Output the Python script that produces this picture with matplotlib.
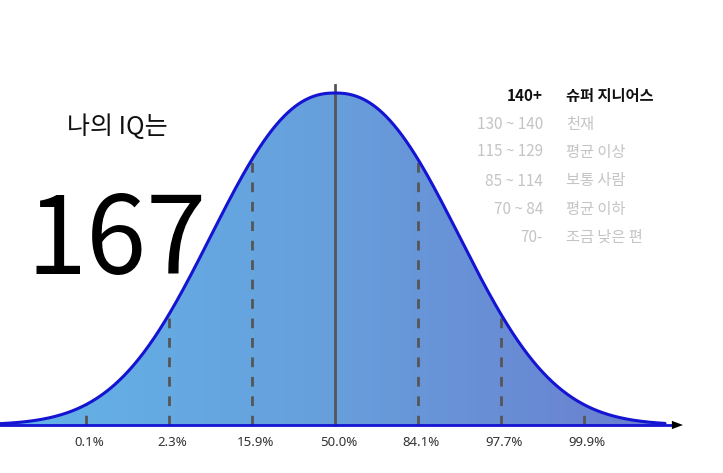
import numpy as np
import matplotlib
matplotlib.use("Agg")
import matplotlib.pyplot as plt
from matplotlib.colors import LinearSegmentedColormap
from matplotlib.patches import PathPatch

plt.rcParams['font.family'] = ['Noto Sans CJK KR', 'DejaVu Sans']

# --- data ---
sigma_pos = [-3, -2, -1, 0, 1, 2, 3]
pct_labels = ["0.1%", "2.3%", "15.9%", "50.0%", "84.1%", "97.7%", "99.9%"]
iq_ranges = ["140+", "130 ~ 140", "115 ~ 129", "85 ~ 114", "70 ~ 84", "70-"]
iq_names = ["슈퍼 지니어스", "천재", "평균 이상", "보통 사람", "평균 이하", "조금 낮은 편"]
my_iq = "167"
title_txt = "나의 IQ는"
curve_width = 1.92   # bell width relative to sigma markers
curve_power = 2.3    # bell shape exponent

W, H = 723, 473
fig = plt.figure(figsize=(W / 100, H / 100), dpi=100)
ax = fig.add_axes([0, 0, 1, 1])
px_per_sigma = 83.0
cx, base_y, peak_y = 335.0, 425.0, 93.0
hpx = base_y - peak_y
ax.set_xlim(-cx / px_per_sigma, (W - cx) / px_per_sigma)
ax.set_ylim((base_y - H) / hpx, base_y / hpx)
ax.axis('off')

def bell(x):
    return np.exp(-(np.abs(x) / curve_width) ** curve_power)

x0 = -cx / px_per_sigma
x1 = (665 - cx) / px_per_sigma
xs = np.linspace(x0, x1, 800)
ys = bell(xs)

# gradient fill
cmap = LinearSegmentedColormap.from_list("g", ["#63b4e8", "#679fdc", "#6a7dcf"])
grad = np.linspace(0, 1, 256).reshape(1, -1)
im = ax.imshow(grad, cmap=cmap, aspect='auto', extent=[x0, x1, 0, 1.0], zorder=1)
poly = ax.fill_between(xs, 0, ys, color='none', zorder=0)
patch = PathPatch(poly.get_paths()[0], transform=ax.transData, facecolor='none', edgecolor='none')
ax.add_patch(patch)
im.set_clip_path(patch)

# sigma lines
for s in sigma_pos:
    if s == 0:
        ax.plot([0, 0], [0, (base_y - 85) / hpx], color='#555555', lw=2, zorder=3)
    else:
        ax.plot([s, s], [0, bell(s)], color='#555555', lw=2, ls=(0, (3.5, 3.5)), zorder=3)

# curve outline
ax.plot(xs, ys, color='#1414d2', lw=2.2, zorder=4, solid_capstyle='round')

# baseline
ax.plot([x0, (672 - cx) / px_per_sigma], [0, 0], color='#1414d2', lw=2, zorder=5)
ax.annotate("", xy=((683 - cx) / px_per_sigma, 0), xytext=((671 - cx) / px_per_sigma, 0),
            arrowprops=dict(arrowstyle='-|>,head_length=0.8,head_width=0.3', color='black',
                            lw=0, shrinkA=0, shrinkB=0), zorder=6)

# percent labels
for s, lab in zip(sigma_pos, pct_labels):
    ax.text(s + 0.04, (base_y - 442) / hpx, lab, ha='center', va='center',
            fontsize=9.5, color='#333333', family=['Noto Sans', 'DejaVu Sans'])

def ftxt(x, y, s, **kw):
    fig.text(x / W, 1 - y / H, s, **kw)

ftxt(117, 127, title_txt, ha='center', va='center', fontsize=18, color='#111111')
ftxt(117, 243, my_iq, ha='center', va='center', fontsize=78, color='#000000')

row_y = [96, 124, 152, 181, 209, 237]
for i, (r, n) in enumerate(zip(iq_ranges, iq_names)):
    col = '#111111' if i == 0 else '#c4c4c4'
    fw = 'bold' if i == 0 else 'normal'
    ftxt(543, row_y[i], r, ha='right', va='center', fontsize=11, color=col, fontweight=fw)
    ftxt(566, row_y[i], n, ha='left', va='center', fontsize=11, color=col, fontweight=fw)

fig.savefig("out.png", dpi=100)
